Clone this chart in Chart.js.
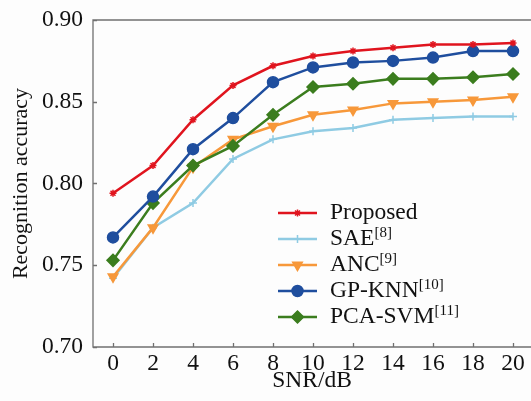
<!DOCTYPE html>
<html>
<head>
    <title>Recognition accuracy vs SNR</title>
    <script src="https://cdn.jsdelivr.net/npm/chart.js"></script>
    <style>
        body { margin: 0; background: #fdfdfd; }
        #wrap { width: 531px; height: 401px; }
    </style>
    <script>
        // SNR values (dB) and accuracy of each method
        const snr = [0, 2, 4, 6, 8, 10, 12, 14, 16, 18, 20];
        const proposed = [0.794, 0.811, 0.839, 0.860, 0.872, 0.878, 0.881, 0.883, 0.885, 0.885, 0.886];
        const sae      = [0.742, 0.773, 0.788, 0.815, 0.827, 0.832, 0.834, 0.839, 0.840, 0.841, 0.841];
        const anc      = [0.743, 0.773, 0.810, 0.827, 0.835, 0.842, 0.845, 0.849, 0.850, 0.851, 0.853];
        const gpKnn    = [0.767, 0.792, 0.821, 0.840, 0.862, 0.871, 0.874, 0.875, 0.877, 0.881, 0.881];
        const pcaSvm   = [0.753, 0.788, 0.811, 0.823, 0.842, 0.859, 0.861, 0.864, 0.864, 0.865, 0.867];
        const yTicks = [0.70, 0.75, 0.80, 0.85, 0.90];

        const names = ['Proposed', 'SAE', 'ANC', 'GP-KNN', 'PCA-SVM'];
        const refs  = ['', '[8]', '[9]', '[10]', '[11]'];

        const FONT = '"Liberation Serif", "Times New Roman", serif';
        const FS = 23.5;

        function pts(arr) {
            return arr.map((v, i) => ({x: snr[i], y: v}));
        }

        // axis frame with inward ticks plus the legend (needs superscripts)
        const framePlugin = {
            id: 'frame',
            afterDraw(chart) {
                const ctx = chart.ctx;
                const a = chart.chartArea;
                const xs = chart.scales.x, ys = chart.scales.y;
                ctx.save();
                ctx.strokeStyle = '#707070';
                ctx.lineWidth = 1.3;
                ctx.beginPath();
                ctx.moveTo(a.right, a.top); ctx.lineTo(a.left, a.top);
                ctx.lineTo(a.left, a.bottom); ctx.lineTo(a.right, a.bottom);
                snr.forEach(v => {
                    const px = Math.round(xs.getPixelForValue(v)) + 0.5;
                    ctx.moveTo(px, a.bottom); ctx.lineTo(px, a.bottom - 4);
                });
                yTicks.forEach(v => {
                    const py = Math.round(ys.getPixelForValue(v)) + 0.5;
                    ctx.moveTo(a.left, py); ctx.lineTo(a.left + 4, py);
                });
                ctx.stroke();

                // legend
                const lx = 278, lw = 39, tx = 330;
                let ly = 213;
                chart.data.datasets.forEach((ds, i) => {
                    ctx.strokeStyle = ds.borderColor;
                    ctx.lineWidth = ds.borderWidth;
                    ctx.beginPath();
                    ctx.moveTo(lx, ly); ctx.lineTo(lx + lw, ly);
                    ctx.stroke();
                    if (Chart.helpers && Chart.helpers.drawPoint) {
                        ctx.fillStyle = ds.pointBackgroundColor;
                        ctx.strokeStyle = ds.pointBorderColor;
                        ctx.lineWidth = 1.5;
                        Chart.helpers.drawPoint(ctx, {
                            pointStyle: ds.pointStyle,
                            rotation: ds.pointRotation || 0,
                            radius: ds.pointRadius,
                            borderWidth: 1.5
                        }, lx + lw / 2, ly);
                    }
                    ctx.fillStyle = '#111';
                    ctx.textBaseline = 'middle';
                    ctx.textAlign = 'left';
                    ctx.font = FS + 'px ' + FONT;
                    ctx.fillText(names[i], tx, ly);
                    const w = ctx.measureText(names[i]).width;
                    if (refs[i]) {
                        ctx.font = '15px ' + FONT;
                        ctx.fillText(refs[i], tx + w, ly - 6);
                    }
                    ly += 26;
                });
                ctx.restore();
            }
        };

        function mk(label, data, color, style, radius, rotation, order) {
            return {
                label: label,
                data: pts(data),
                borderColor: color,
                backgroundColor: color,
                pointBackgroundColor: color,
                pointBorderColor: color,
                pointStyle: style,
                pointRadius: radius,
                pointRotation: rotation,
                pointBorderWidth: 1.5,
                borderWidth: 2.5,
                tension: 0,
                order: order
            };
        }

        window.onload = function() {
            const ctx = document.getElementById('myChart').getContext('2d');
            new Chart(ctx, {
                type: 'line',
                data: {
                    datasets: [
                        mk(names[0], proposed, '#e0141e', 'star', 3.5, 0, 0),
                        mk(names[1], sae, '#8fcbe3', 'cross', 4, 0, 4),
                        mk(names[2], anc, '#f7983a', 'triangle', 5.5, 180, 3),
                        mk(names[3], gpKnn, '#1f4e9e', 'circle', 5.5, 0, 1),
                        mk(names[4], pcaSvm, '#3b7d1e', 'rectRot', 6, 0, 2)
                    ]
                },
                options: {
                    responsive: false,
                    animation: false,
                    layout: { autoPadding: false, padding: { top: 20, left: 0, right: 0, bottom: 0 } },
                    plugins: {
                        legend: { display: false },
                        tooltip: { enabled: false }
                    },
                    scales: {
                        x: {
                            type: 'linear',
                            min: -1,
                            max: 20.9,
                            grid: { display: false, drawTicks: false },
                            border: { display: false },
                            afterBuildTicks: s => { s.ticks = snr.map(v => ({value: v})); },
                            afterFit: s => { s.height = 54; s.paddingLeft = 0; s.paddingRight = 0; },
                            ticks: {
                                color: '#111',
                                padding: 3,
                                maxRotation: 0,
                                autoSkip: false,
                                font: { family: FONT, size: FS }
                            },
                            title: {
                                display: true,
                                text: 'SNR/dB',
                                color: '#111',
                                padding: { top: 0, bottom: 6 },
                                font: { family: FONT, size: FS }
                            }
                        },
                        y: {
                            min: 0.70,
                            max: 0.90,
                            grid: { display: false, drawTicks: false },
                            border: { display: false },
                            afterBuildTicks: s => { s.ticks = yTicks.map(v => ({value: v})); },
                            afterFit: s => { s.width = 93; s.paddingTop = 0; s.paddingBottom = 0; },
                            ticks: {
                                color: '#111',
                                padding: 10,
                                font: { family: FONT, size: FS },
                                callback: v => v.toFixed(2)
                            },
                            title: {
                                display: true,
                                text: 'Recognition accuracy',
                                color: '#111',
                                padding: { top: 8, bottom: 0 },
                                font: { family: FONT, size: 22 }
                            }
                        }
                    }
                },
                plugins: [framePlugin]
            });
        }
    </script>
</head>
<body>
    <div id="wrap">
        <canvas id="myChart" width="531" height="401"></canvas>
    </div>
</body>
</html>
